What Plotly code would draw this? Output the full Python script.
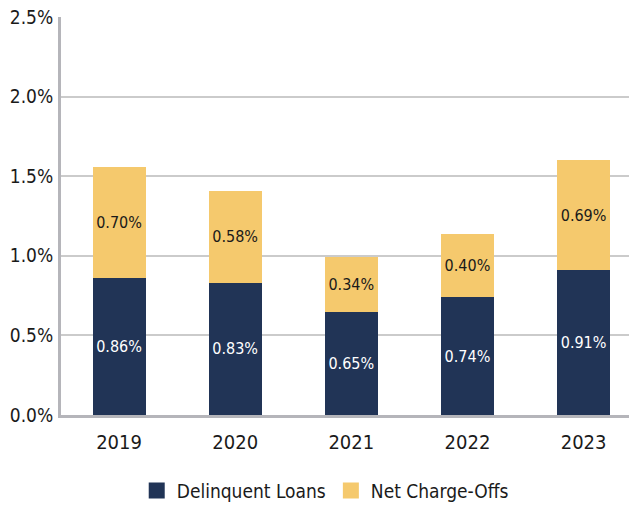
import plotly.graph_objects as go

years = ["2019", "2020", "2021", "2022", "2023"]
delinquent = [0.86, 0.83, 0.65, 0.74, 0.91]
charge_offs = [0.70, 0.58, 0.34, 0.40, 0.69]
series_names = ["Delinquent Loans", "Net Charge-Offs"]

NAVY = "#213456"
GOLD = "#f5c96d"
FONT = "DejaVu Sans Condensed, Liberation Sans Narrow, sans-serif"

fig = go.Figure()
fig.add_trace(go.Bar(
    x=years, y=delinquent, name=series_names[0], showlegend=False,
    marker=dict(color=NAVY, line=dict(width=0)),
    text=[f"{v:.2f}%" for v in delinquent],
    textposition="inside", insidetextanchor="middle", textangle=0,
    textfont=dict(color="white", size=16, family=FONT),
    width=0.457,
))
fig.add_trace(go.Bar(
    x=years, y=charge_offs, name=series_names[1], showlegend=False,
    marker=dict(color=GOLD, line=dict(width=0)),
    text=[f"{v:.2f}%" for v in charge_offs],
    textposition="inside", insidetextanchor="middle", textangle=0,
    textfont=dict(color="#1a1a1a", size=16, family=FONT),
    width=0.457,
))
# legend entries with larger square swatches
for nm, col in zip(series_names, [NAVY, GOLD]):
    fig.add_trace(go.Scatter(
        x=[None], y=[None], mode="markers", name=nm,
        marker=dict(symbol="square", size=16, color=col),
        showlegend=True,
    ))

fig.update_layout(
    barmode="stack",
    width=637, height=508,
    # page body has an 8px margin; compensate so the plot sits where it should
    margin=dict(l=53, r=8, t=9, b=101, autoexpand=False),
    paper_bgcolor="white", plot_bgcolor="white",
    font=dict(family=FONT, color="#1a1a1a", size=20),
    uniformtext=dict(minsize=8, mode="show"),
    showlegend=True,
    legend=dict(
        orientation="h", xref="container", yref="paper",
        x=0.498, xanchor="center", y=-0.19, yanchor="middle",
        font=dict(size=19, family=FONT, color="#1a1a1a"),
        itemwidth=30, traceorder="normal", itemsizing="trace",
    ),
    xaxis=dict(
        type="category", range=[-0.5, 4.46], automargin=False,
        showgrid=False, showline=True, linecolor="#b5b5ba", linewidth=3,
        ticks="", tickfont=dict(size=20, family=FONT),
        ticklabelstandoff=7,
    ),
    yaxis=dict(
        range=[0, 2.5], dtick=0.5, tickformat=".1f", ticksuffix="%",
        automargin=False, ticklabeloverflow="allow",
        showgrid=True, gridcolor="#cbcbcb", gridwidth=1.5,
        showline=True, linecolor="#b5b5ba", linewidth=3,
        ticks="", tickfont=dict(size=19, family=FONT),
        ticklabelstandoff=1,
        zeroline=False,
    ),
)

fig.write_html("out.html")
